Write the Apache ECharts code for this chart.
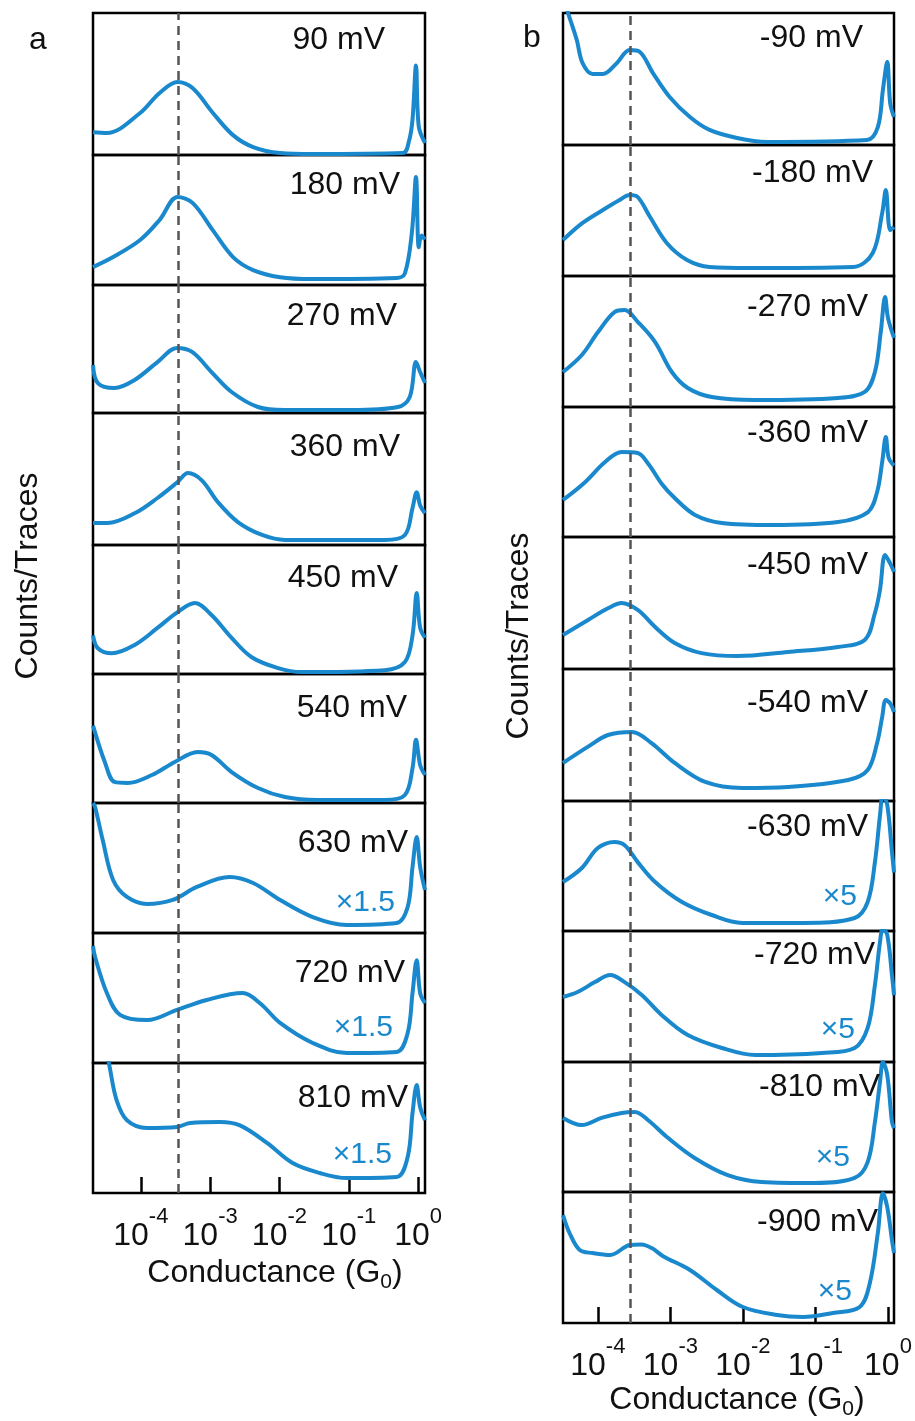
<!DOCTYPE html>
<html><head><meta charset="utf-8">
<script src="https://cdn.jsdelivr.net/npm/echarts@6/dist/echarts.min.js"></script>
<style>html,body{margin:0;padding:0;background:#fff}#c{width:915px;height:1421px}</style>
</head><body><div id="c"></div>
<script>
// ================= DATA =================
// x = log10(Conductance / G0), y = counts/traces (arbitrary units, 0..100 per sub-panel)
const tickExponents = [-4, -3, -2, -1, 0];
const refLogG_A = -3.46;   // dashed reference line, panel a
const refLogG_B = -3.55;   // dashed reference line, panel b

const biasA  = ['90 mV','180 mV','270 mV','360 mV','450 mV','540 mV','630 mV','720 mV','810 mV'];
const scaleA = ['','','','','','','×1.5','×1.5','×1.5'];
const biasB  = ['-90 mV','-180 mV','-270 mV','-360 mV','-450 mV','-540 mV','-630 mV','-720 mV','-810 mV','-900 mV'];
const scaleB = ['','','','','','','×5','×5','×5','×5'];

const a90  = [[-4.69,16],[-4.49,15.5],[-4.01,29.6],[-3.73,43.7],[-3.47,51.4],[-3.25,47],[-2.96,29.6],[-2.67,14],[-2.38,5.6],[-1.99,1.4],[-1.52,0.7],[-0.22,1.4],[-0.13,10],[-0.08,25],[-0.03,63],[0.01,20],[0.10,8.5]];
const a180 = [[-4.69,13.8],[-4.40,21.5],[-4.01,34.6],[-3.73,50],[-3.47,67.7],[-3.25,63],[-2.96,42],[-2.67,21.5],[-2.38,11.5],[-1.99,6],[-1.52,4.6],[-0.31,5.4],[-0.19,9],[-0.09,40],[-0.03,83],[0.01,29],[0.05,38],[0.10,35]];
const a270 = [[-4.69,37.5],[-4.62,23.4],[-4.38,19.5],[-4.09,25.8],[-3.76,39.8],[-3.48,50.8],[-3.26,47.7],[-2.98,32],[-2.69,16.4],[-2.31,4.7],[-1.92,2.3],[-0.96,2.3],[-0.29,4.7],[-0.12,12.5],[-0.03,39.8],[0.03,32],[0.10,23.4]];
const a360 = [[-4.69,16.7],[-4.48,16.7],[-4.09,24],[-3.76,35.6],[-3.47,47.7],[-3.32,54.5],[-3.12,49],[-2.89,32.6],[-2.60,17.4],[-2.25,7.6],[-1.92,3.8],[-0.48,3.8],[-0.19,7.6],[-0.08,28],[-0.02,40],[0.03,30],[0.10,24]];
const a450 = [[-4.69,30],[-4.62,20],[-4.42,16],[-4.09,22.5],[-3.76,35.7],[-3.47,48],[-3.22,55],[-2.98,45.7],[-2.69,28],[-2.40,13],[-2.02,4.6],[-1.68,1.5],[-0.48,3],[-0.19,9.3],[-0.08,30],[-0.02,62.8],[0.03,35.7],[0.10,28]];
const a540 = [[-4.69,60],[-4.52,31.8],[-4.38,16.3],[-4.19,15.5],[-3.84,21.7],[-3.51,31.8],[-3.18,39.5],[-2.98,37.2],[-2.69,24],[-2.31,11.6],[-1.92,4.6],[-1.45,2.3],[-0.48,2.3],[-0.19,6.2],[-0.08,27],[-0.03,49],[0.03,29.5],[0.10,21.7]];
const a630 = [[-4.69,100],[-4.66,97],[-4.55,71.5],[-4.40,40.8],[-4.20,27.7],[-3.91,22.3],[-3.54,25.4],[-3.19,35.4],[-2.72,43],[-2.38,38.5],[-1.99,25.4],[-1.52,12.3],[-1.03,6.2],[-0.31,7.7],[-0.15,20],[-0.08,50.8],[-0.02,73.8],[0.03,50.8],[0.10,33]];
const a720 = [[-4.69,90],[-4.66,81.5],[-4.49,53.8],[-4.30,37],[-3.91,33],[-3.48,40.8],[-3.05,48.5],[-2.53,53.8],[-2.28,46],[-1.99,30.8],[-1.52,15.4],[-1.03,7.7],[-0.31,8.5],[-0.15,23],[-0.08,53.8],[-0.02,79],[0.03,53.8],[0.10,46]];
const a810 = [[-4.48,106],[-4.45,97],[-4.35,71.5],[-4.20,56],[-3.91,50],[-3.48,50.8],[-3.29,53.8],[-2.86,54.6],[-2.57,52],[-2.18,38.5],[-1.81,23],[-1.42,15.4],[-1.03,11.5],[-0.31,12.3],[-0.15,27.7],[-0.08,61.5],[-0.02,83],[0.03,66],[0.10,56]];

const b90  = [[-4.46,110],[-4.41,100],[-4.29,79.5],[-4.21,62],[-4.07,53.8],[-3.93,53.8],[-3.74,62],[-3.56,72],[-3.42,70.5],[-3.24,54.5],[-3.01,36.4],[-2.73,21.2],[-2.46,11.4],[-2.08,5.3],[-1.67,2.3],[-0.29,3.8],[-0.14,13.6],[-0.07,41.7],[-0.01,63],[0.03,31.8],[0.083,21.2]];
const b180 = [[-4.48,27.5],[-4.21,40.5],[-3.93,50.4],[-3.70,58],[-3.56,61.8],[-3.45,60.3],[-3.28,45],[-3.05,25.2],[-2.77,12.2],[-2.46,6.9],[-1.90,6.1],[-0.48,6.9],[-0.21,17.6],[-0.08,48],[-0.03,65.6],[0.03,35],[0.083,37.4]];
const b270 = [[-4.48,26.7],[-4.22,39.7],[-4.00,57],[-3.77,72.5],[-3.63,74],[-3.45,65],[-3.21,49.6],[-2.98,26.7],[-2.76,14.5],[-2.43,7.6],[-1.83,5.3],[-0.69,6.9],[-0.32,11.5],[-0.18,26.7],[-0.10,57],[-0.04,84],[0.0,68],[0.083,52.7]];
const b360 = [[-4.48,28.5],[-4.18,42],[-3.90,57.7],[-3.67,65.4],[-3.45,64.6],[-3.30,56],[-3.12,41],[-2.94,30],[-2.66,17],[-2.29,10.8],[-1.60,9.2],[-0.69,11.5],[-0.28,19],[-0.15,34.6],[-0.08,57.7],[-0.03,77],[0.01,60.8],[0.083,55]];
const b450 = [[-4.48,25.8],[-4.14,37],[-3.86,46],[-3.67,50],[-3.45,44.7],[-3.21,31.8],[-2.94,19.7],[-2.57,12],[-2.07,9.8],[-1.38,12.9],[-0.69,16.7],[-0.32,22],[-0.18,42.4],[-0.11,60],[-0.04,86.4],[0.03,80],[0.083,73.5]];
const b540 = [[-4.48,28.8],[-4.14,41],[-3.86,50],[-3.53,52.3],[-3.26,43.9],[-2.94,28.8],[-2.52,14.4],[-2.01,9.8],[-1.38,10.6],[-0.55,15.9],[-0.28,23.5],[-0.15,44],[-0.08,63.6],[-0.03,76.5],[0.03,74],[0.083,67.4]];
const b630 = [[-4.48,37.7],[-4.22,48.5],[-4.00,63.8],[-3.77,68.5],[-3.63,66],[-3.45,53],[-3.21,37.7],[-2.84,22.3],[-2.43,12.3],[-2.01,6.2],[-1.15,6.2],[-0.46,10],[-0.28,22.3],[-0.18,53],[-0.11,89],[-0.07,105],[-0.01,97],[0.055,60.8],[0.083,45]];
const b720 = [[-4.48,49.6],[-4.28,53.4],[-4.04,61],[-3.83,66.4],[-3.63,61],[-3.39,51],[-3.12,35.9],[-2.76,20.6],[-2.29,10.7],[-1.83,5.3],[-0.91,6.9],[-0.46,10.7],[-0.28,26],[-0.18,58.8],[-0.11,91.6],[-0.07,102],[-0.01,97],[0.055,66.4],[0.083,51]];
const b810 = [[-4.48,57],[-4.22,51.5],[-3.95,57],[-3.67,60.8],[-3.49,61.5],[-3.31,55.4],[-3.03,41.5],[-2.66,26],[-2.21,13],[-1.74,7.7],[-1.01,6.9],[-0.46,10.8],[-0.28,23],[-0.18,53.8],[-0.11,84.6],[-0.07,100],[-0.01,90],[0.055,53.8],[0.083,49]];
const b900 = [[-4.48,82.4],[-4.39,68.7],[-4.25,55.7],[-4.07,53.4],[-3.83,51.9],[-3.56,59.5],[-3.40,60],[-3.25,57],[-3.10,51],[-2.73,40.5],[-2.36,25.2],[-2.00,12.2],[-1.53,6.1],[-1.17,4.6],[-0.76,7.6],[-0.39,12.2],[-0.25,30.5],[-0.14,68.7],[-0.07,99],[-0.01,88.5],[0.055,63.4],[0.083,53.4]];

const curvesA = [a90,a180,a270,a360,a450,a540,a630,a720,a810];
const curvesB = [b90,b180,b270,b360,b450,b540,b630,b720,b810,b900];

// ================= LAYOUT / STYLE =================
const FONT = '"Liberation Sans", Arial, Helvetica, sans-serif';
const BLUE = '#1a88cc';
const panels = [
  { left: 93, right: 425, xmin: -4.69, xmax: 0.10, ref: refLogG_A,
    edges: [13,155,285,413,545,674,803,933,1063,1193], curves: curvesA, bias: biasA, scale: scaleA,
    biasPos: [[385,40],[400,185],[397,316],[400,447],[398,578],[407,708],[408,843],[405,973],[408,1098]],
    scalePos: [null,null,null,null,null,null,[395,903],[393,1028],[392,1155]],
    letter: ['a',38,40], ylab: [28,576], xlab: [275,1273] },
  { left: 563, right: 894, xmin: -4.48, xmax: 0.083, ref: refLogG_B,
    edges: [13,145,276,407,537,669,801,931,1062,1192,1323], curves: curvesB, bias: biasB, scale: scaleB,
    biasPos: [[863,38],[873,173],[868,307],[868,433],[868,565],[868,703],[868,827],[875,955],[880,1087],[878,1222]],
    scalePos: [null,null,null,null,null,null,[857,897],[855,1030],[850,1158],[852,1292]],
    letter: ['b',532,38], ylab: [519,636], xlab: [737,1400] }
];

const grid = [], xAxis = [], yAxis = [], series = [], graphic = [];
let gi = 0;
panels.forEach(p => {
  const n = p.curves.length;
  for (let i = 0; i < n; i++) {
    const top = p.edges[i], bottom = p.edges[i+1];
    const isBottom = i === n - 1;
    grid.push({ left: p.left, top: top, width: p.right - p.left, height: bottom - top,
      show: true, borderColor: '#000', borderWidth: 2.5, backgroundColor: 'transparent' });
    xAxis.push({ gridIndex: gi, type: 'value', min: p.xmin, max: p.xmax,
      axisLine: { show: false }, splitLine: { show: false },
      axisTick: { show: isBottom, inside: true, length: 16, customValues: tickExponents,
        lineStyle: { color: '#000', width: 2.5 } },
      axisLabel: { show: isBottom, customValues: tickExponents, margin: 13,
        formatter: v => '{b|10}{s|' + v + '}',
        rich: { b: { fontSize: 32, fontFamily: FONT, color: '#111', lineHeight: 60 },
                s: { fontSize: 22, fontFamily: FONT, color: '#111', lineHeight: 18, verticalAlign: 'top' } } } });
    yAxis.push({ gridIndex: gi, type: 'value', min: 0, max: 100, show: false,
      splitLine: { show: false } });
    series.push({ type: 'line', xAxisIndex: gi, yAxisIndex: gi, data: p.curves[i],
      showSymbol: false, symbol: 'none', smooth: 0.35, clip: true,
      lineStyle: { color: BLUE, width: 4 },
      markLine: { silent: true, symbol: ['none','none'], label: { show: false },
        lineStyle: { color: '#555', width: 2.5, type: [9,6] },
        data: [{ xAxis: p.ref }] } });
    graphic.push({ type: 'text', x: p.biasPos[i][0], y: p.biasPos[i][1], z: 10,
      style: { text: p.bias[i], font: '32px ' + FONT, fill: '#111',
        textAlign: 'right', textVerticalAlign: 'middle', align: 'right', verticalAlign: 'middle' } });
    if (p.scale[i]) {
      graphic.push({ type: 'text', x: p.scalePos[i][0], y: p.scalePos[i][1], z: 10,
        style: { text: p.scale[i], font: '30px ' + FONT, fill: BLUE,
          textAlign: 'right', textVerticalAlign: 'middle', align: 'right', verticalAlign: 'middle' } });
    }
    gi++;
  }
  graphic.push({ type: 'text', x: p.letter[1], y: p.letter[2],
    style: { text: p.letter[0], font: '32px ' + FONT, fill: '#111',
      textAlign: 'center', textVerticalAlign: 'middle', align: 'center', verticalAlign: 'middle' } });
  graphic.push({ type: 'text', x: p.ylab[0], y: p.ylab[1], rotation: Math.PI / 2,
    style: { text: 'Counts/Traces', font: '32px ' + FONT, fill: '#111',
      textAlign: 'center', textVerticalAlign: 'middle', align: 'center', verticalAlign: 'middle' } });
  graphic.push({ type: 'text', x: p.xlab[0], y: p.xlab[1],
    style: { text: 'Conductance (G{sub|0}{m|)}', font: '32px ' + FONT, fill: '#111',
      textAlign: 'center', textVerticalAlign: 'middle', align: 'center', verticalAlign: 'middle',
      rich: { sub: { fontSize: 21, fontFamily: FONT, fill: '#111', color: '#111', lineHeight: 20, verticalAlign: 'bottom' },
              m: { fontSize: 32, fontFamily: FONT, fill: '#111', color: '#111', lineHeight: 40 } } } });
});

const chart = echarts.init(document.getElementById('c'), null, { renderer: 'canvas' });
chart.setOption({ animation: false, backgroundColor: '#fff', grid, xAxis, yAxis, series, graphic });
</script></body></html>
